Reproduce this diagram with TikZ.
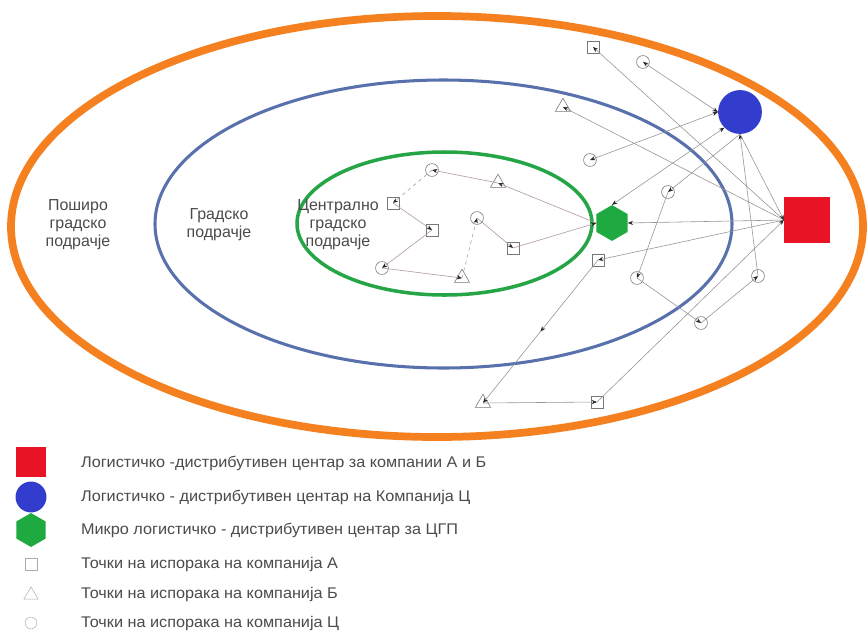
\documentclass[tikz,border=0pt]{standalone}
\usepackage{fontspec}
\setmainfont{Liberation Sans}
\newfontfamily\legfont[FakeStretch=1.05]{Liberation Sans}
\usetikzlibrary{shapes.geometric,arrows.meta,decorations.markings}
\definecolor{orng}{RGB}{245,128,32}
\definecolor{ellblue}{RGB}{88,112,172}
\definecolor{ellgreen}{RGB}{38,165,70}
\definecolor{hexgreen}{RGB}{30,170,65}
\definecolor{dcred}{RGB}{232,20,38}
\definecolor{dcblue}{RGB}{50,60,205}
\definecolor{txt}{RGB}{75,75,75}
\definecolor{edge}{RGB}{120,120,120}
\definecolor{lnk}{RGB}{150,150,150}
\definecolor{lnkin}{RGB}{175,150,160}
\definecolor{leg}{RGB}{170,170,170}
\tikzset{
  tip/.tip={Stealth[length=4.5pt,width=3.5pt,color=black!85]},
  sq/.style={draw=edge, fill=white, minimum size=10pt, inner sep=0pt, line width=0.5pt},
  ci/.style={circle, draw=edge, fill=white, minimum size=11pt, inner sep=0pt, line width=0.5pt},
  tri/.style={regular polygon, regular polygon sides=3, draw=edge, fill=white, minimum size=15pt, inner sep=0pt, line width=0.5pt},
  route/.style={draw=lnk, line width=0.5pt, -tip},
  tworoute/.style={draw=lnk, line width=0.5pt, tip-tip},
  inroute/.style={draw=lnkin, line width=0.5pt, -tip},
  midarrow/.style={postaction={decorate}, decoration={markings, mark=at position 0.5 with {\arrow{tip}}}},
  region/.style={text=txt, align=center, font=\fontsize{13.6}{15.3}\selectfont},
  legtext/.style={text=txt, anchor=west, font=\legfont\fontsize{13.2}{15}\selectfont},
}
\begin{document}
\begin{tikzpicture}[x=0.3mm,y=-0.3mm]
\useasboundingbox[fill=white] (0,0) rectangle (868,637);
% zones
\draw[orng, line width=6.6pt] (437,226.5) ellipse [x radius=426, y radius=210.5];
\draw[ellblue, line width=2.6pt] (443.5,224) ellipse [x radius=288.5, y radius=144];
\draw[ellgreen, line width=3pt] (444.5,223.5) ellipse [x radius=147.5, y radius=71.5];
% zone labels
\node[region] (lw) at (78,225) {Пошиpо\\градско\\подрачје};
\node[region] (lc) at (219,225) {Градско\\подрачје};
\node[region] (lz) at (338,225) {Централно\\градско\\подрачје};
% centres
\node[draw=none, fill=dcred, minimum size=39pt, inner sep=0pt] (red) at (807,220) {};
\node[circle, fill=dcblue, minimum size=37.4pt, inner sep=0pt] (blue) at (740,112) {};
\node[regular polygon, regular polygon sides=6, shape border rotate=30, fill=hexgreen, minimum size=30.6pt, inner sep=0pt] (hex) at (612,223) {};
% outer delivery points
\node[sq] (a1) at (593,47) {};
\node[ci] (c1) at (643,62) {};
\node[tri] (b1) at (563,107) {};
\node[ci] (c2) at (590,160) {};
\node[ci] (c3) at (668,192) {};
\node[sq] (a2) at (598,260) {};
\node[ci] (c4) at (637,278) {};
\node[ci] (c5) at (758,276) {};
\node[ci] (c6) at (701,323) {};
\node[sq] (a3) at (597,402) {};
\node[tri] (b2) at (483,403) {};
% central delivery points
\node[ci] (c7) at (432,170) {};
\node[tri] (b3) at (498,183) {};
\node[sq] (a4) at (393,203) {};
\node[sq] (a5) at (432,230) {};
\node[ci] (c8) at (477,218) {};
\node[sq] (a6) at (513,248) {};
\node[ci] (c9) at (382,268) {};
\node[tri] (b4) at (462,278) {};
% company A/B routes
\draw[route] (red.west) -- (a1.center);
\draw[route] (red.west) -- (b1.center);
\draw[route] (red.west) -- (hex.east);
\draw[route] (red.west) -- (a2.center);
\draw[route, midarrow] (a2.center) -- (b2.center);
\draw[route] (b2.center) -- (a3.center);
\draw[route] (a3.center) -- (red.west);
% company C routes
\draw[tworoute] (blue.west) -- (c1.center);
\draw[tworoute] (blue.west) -- (c2.center);
\draw[tworoute] (blue.225) -- (hex.north);
\draw[route] (blue.south) -- (c3.center);
\draw[route] (c3.center) -- (c4.center);
\draw[route] (c4.center) -- (c6.center);
\draw[route] (c6.center) -- (c5.center);
\draw[route] (c5.center) -- (blue.south);
\draw[route] (blue.south) -- (red.west);
% micro hub route
\draw[inroute] (hex.west) -- (b3.center);
\draw[inroute] (b3.center) -- (c7.center);
\draw[inroute, dashed] (c7.center) -- (a4.center);
\draw[inroute] (a4.center) -- (a5.center);
\draw[inroute] (a5.center) -- (c9.center);
\draw[inroute] (c9.center) -- (b4.center);
\draw[inroute, dashed] (b4.center) -- (c8.center);
\draw[inroute] (c8.center) -- (a6.center);
\draw[inroute] (a6.center) -- (hex.west);
% legend
\node[fill=dcred, minimum size=25.5pt, inner sep=0pt] (k1) at (31,462) {};
\node[circle, fill=dcblue, minimum size=26.4pt, inner sep=0pt] (k2) at (31,497) {};
\node[regular polygon, regular polygon sides=6, shape border rotate=30, fill=hexgreen, minimum size=29pt, inner sep=0pt] (k3) at (31,530) {};
\node[draw=leg, minimum size=10pt, inner sep=0pt] (k4) at (31,564) {};
\node[regular polygon, regular polygon sides=3, draw=leg, minimum size=14pt, inner sep=0pt] (k5) at (31,595) {};
\node[circle, draw=leg, minimum size=10pt, inner sep=0pt] (k6) at (31,623) {};
\node[legtext] (t1) at (77,463) {Логистичко -дистрибутивен центар за компании А и Б};
\node[legtext] (t2) at (77,497) {Логистичко - дистрибутивен центар на Компанија Ц};
\node[legtext] (t3) at (77,530) {Микро логистичко - дистрибутивен центар за ЦГП};
\node[legtext] (t4) at (77,564) {Точки на испорака на компанија А};
\node[legtext] (t5) at (77,594) {Точки на испорака на компанија Б};
\node[legtext] (t6) at (77,623) {Точки на испорака на компанија Ц};
\end{tikzpicture}
\end{document}
